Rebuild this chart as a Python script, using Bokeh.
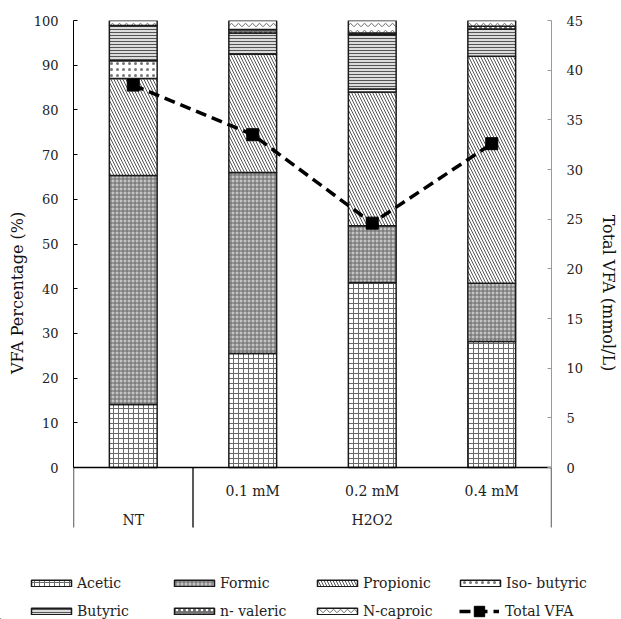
from bokeh.plotting import figure
from bokeh.layouts import column
from bokeh.models import (ColumnDataSource, Range1d, LinearAxis, FixedTicker,
                          Legend, LegendItem)
from bokeh.core.properties import value
from bokeh.embed import file_html
from bokeh.resources import INLINE

# ---------------- data ----------------
group_labels = ["NT", "H2O2"]
group_span = [1, 3]                      # number of treatments in each group
treatment_labels = ["", "0.1 mM", "0.2 mM", "0.4 mM"]

series_names = ["Acetic", "Formic", "Propionic", "Iso- butyric",
                "Butyric", "n- valeric", "N-caproic"]
acetic = [14.1, 25.5, 41.4, 28.2]
formic = [51.2, 40.5, 12.7, 13.0]
propionic = [21.7, 26.5, 29.9, 50.8]
iso_butyric = [4.0, 0.0, 0.7, 0.0]
butyric = [7.9, 4.7, 12.1, 6.1]
n_valeric = [0.0, 0.8, 0.4, 0.6]
n_caproic = [1.1, 2.0, 2.8, 1.3]
total_vfa = [38.5, 33.5, 24.6, 32.6]
total_name = "Total VFA"

left_ticks = [0, 10, 20, 30, 40, 50, 60, 70, 80, 90, 100]
right_ticks = [0, 5, 10, 15, 20, 25, 30, 35, 40, 45]

# ---------------- layout constants ----------------
FONT = "DejaVu Serif"
W = 621
MAIN_H, LEG_H = 565, 54
TOP = 20
FRAME_H = MAIN_H - TOP
PLOT_H = 447           # px used by 0..100
TABLE_H = 60           # px of category table below zero
LEFT_MAX, RIGHT_MAX = 100, 45
px_per_unit = PLOT_H / LEFT_MAX
y_start = -(FRAME_H - PLOT_H) / px_per_unit
ratio = RIGHT_MAX / LEFT_MAX
table_bottom = -TABLE_H / px_per_unit

n = len(treatment_labels)
xs = [i + 0.5 for i in range(n)]

src = ColumnDataSource(dict(x=xs, Acetic=acetic, Formic=formic, Propionic=propionic,
                            Iso=iso_butyric, Butyric=butyric, Valeric=n_valeric,
                            Caproic=n_caproic, total=total_vfa))
stack_keys = ["Acetic", "Formic", "Propionic", "Iso", "Butyric", "Valeric", "Caproic"]

p = figure(width=W, height=MAIN_H, output_backend="svg", toolbar_location=None,
           x_range=Range1d(0, n), y_range=Range1d(y_start, LEFT_MAX),
           x_axis_type=None, min_border_left=73, min_border_right=70,
           min_border_top=TOP, min_border_bottom=0)
p.outline_line_color = None
p.grid.visible = False
p.frame_align = False

p.extra_y_ranges = {"vfa": Range1d(y_start * ratio, RIGHT_MAX)}

fills = ["white", "#c4c4c4", "white", "white", "#dcdcdc", "#707070", "white"]
hatches = ["+", "+", "\\", ".", "-", ".", "v"]
hatch_colors = ["#6a6a6a", "#666666", "#555555", "#777777", "#555555", "white", "#666666"]
hatch_scales = [5, 4, 6, 6, 3, 5, 7]
hatch_weights = [1, 1, 1, 1, 1, 1.5, 1]
bar_style = dict(fill_color=fills, hatch_pattern=hatches, hatch_color=hatch_colors,
                 hatch_scale=hatch_scales, hatch_weight=hatch_weights)

bars = p.vbar_stack(stack_keys, x="x", width=0.4, source=src,
                    line_color="#1a1a1a", line_width=1.5, **bar_style)

line_kw = dict(line_color="black", line_width=3.5, line_dash="11 6")
mark_kw = dict(marker="square", size=12, fill_color="black", line_color="black")
p.line("x", "total", source=src, y_range_name="vfa", **line_kw)
p.scatter("x", "total", source=src, y_range_name="vfa", **mark_kw)

# ---------------- axes ----------------
ya = p.yaxis[0]
ya.ticker = FixedTicker(ticks=left_ticks)
ya.bounds = (0, LEFT_MAX)
ya.axis_label = "VFA Percentage (%)"
ya.axis_line_color = "black"
ya.major_tick_line_color = "black"

ra = LinearAxis(y_range_name="vfa", ticker=FixedTicker(ticks=right_ticks),
                bounds=(0, RIGHT_MAX), axis_label="Total VFA (mmol/L)")
ra.axis_line_color = "#9a9a9a"
ra.major_tick_line_color = "#9a9a9a"
p.add_layout(ra, "right")

for ax in (ya, ra):
    ax.minor_tick_line_color = None
    ax.major_tick_in = 4
    ax.major_tick_out = 0
    ax.major_label_text_font = FONT
    ax.major_label_text_font_size = "13px"
    ax.major_label_text_color = "#222222"
    ax.major_label_standoff = 15
    ax.axis_label_text_font = FONT
    ax.axis_label_text_font_size = "16px"
    ax.axis_label_text_font_style = "normal"
    ax.axis_label_text_color = "#111111"
ya.axis_label_standoff = 4
ra.axis_label_standoff = 13

# ---------------- category table ----------------
seg_x0 = [0, 0]
seg_y0 = [0, table_bottom]
seg_x1 = [n, 0]
seg_y1 = [0, 0]
edge = 0
for span in group_span:
    edge += span
    seg_x0.append(edge); seg_y0.append(table_bottom)
    seg_x1.append(edge); seg_y1.append(0)
p.segment(seg_x0, seg_y0, seg_x1, seg_y1, line_color="black", line_width=1.3)

sub_y = -23 / px_per_unit
grp_y = -52 / px_per_unit
tx = [xs[i] for i in range(n) if treatment_labels[i]]
tt = [t for t in treatment_labels if t]
p.text(tx, [sub_y] * len(tx), text=tt, text_font=value(FONT), text_font_size="14px",
       text_align="center", text_baseline="middle", text_color="#222222")
gx, start = [], 0
for span in group_span:
    gx.append(start + span / 2)
    start += span
p.text(gx, [grp_y] * len(gx), text=group_labels, text_font=value(FONT),
       text_font_size="14px", text_align="center", text_baseline="middle",
       text_color="#222222")

# ---------------- legend (separate strip, full width) ----------------
lg = figure(width=W, height=LEG_H, output_backend="svg", toolbar_location=None,
            x_range=Range1d(0, 1), y_range=Range1d(0, 1),
            x_axis_type=None, y_axis_type=None,
            min_border_left=0, min_border_right=0, min_border_top=0, min_border_bottom=0)
lg.outline_line_color = None
lg.grid.visible = False
lg.frame_align = False

items = []
for i, name in enumerate(series_names):
    style = {k: v[i] for k, v in bar_style.items()}
    r = lg.vbar(x=[-5], top=[-5], bottom=[-6], width=0.1,
                line_color="#1a1a1a", line_width=1.5, **style)
    items.append(LegendItem(label=name, renderers=[r]))
lr = lg.line(x=[-5, -4], y=[-5, -5], **line_kw)
mr = lg.scatter(x=[-5], y=[-5], **mark_kw)

leg_text = dict(label_text_font=FONT, label_text_font_size="14px",
                label_text_color="#222222", border_line_color=None,
                background_fill_alpha=0, padding=0, margin=0)
legend = Legend(items=items, ncols=4, orientation="horizontal", location=(26, -1),
                glyph_width=50, glyph_height=8, label_standoff=1,
                label_width=82, label_height=18, spacing=10, **leg_text)
lg.add_layout(legend, "center")

legend2 = Legend(items=[LegendItem(label=total_name, renderers=[lr, mr])],
                 location=(459, -5), glyph_width=40, glyph_height=26,
                 label_standoff=6, label_height=18, **leg_text)
lg.add_layout(legend2, "center")

layout = column(p, lg, spacing=0)
open("out.html", "w").write(file_html(layout, INLINE))
